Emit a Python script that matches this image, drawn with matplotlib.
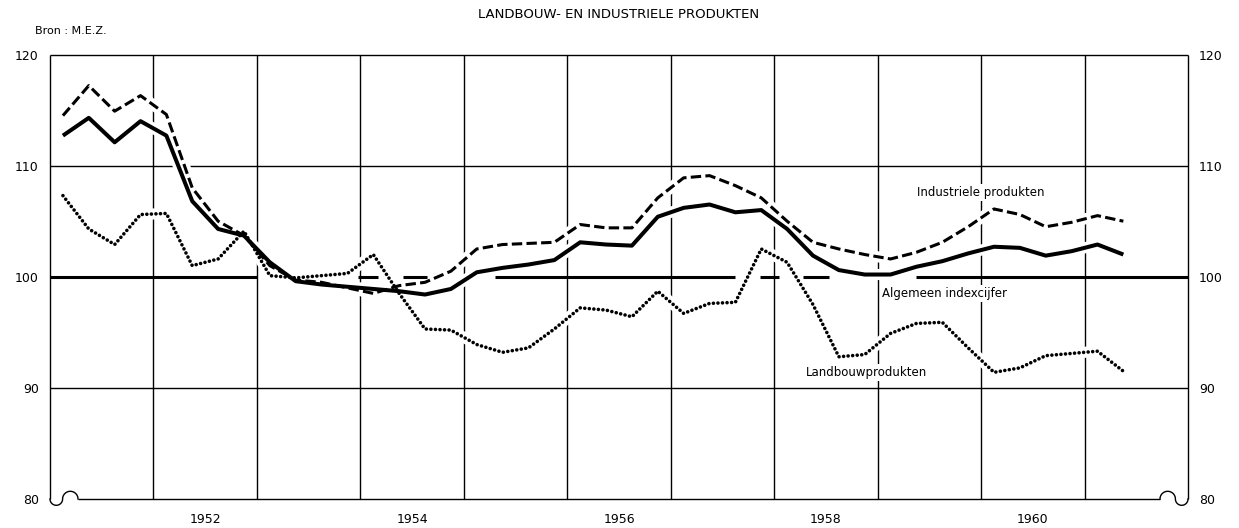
import numpy as np
import matplotlib
matplotlib.use("Agg")
import matplotlib.pyplot as plt
import matplotlib.transforms as mtransforms

# ---------------- data (quarterly index numbers, 1951 Q1 ... 1961 Q2) ----------------
start_year = 1951
industriele = [114.5, 117.2, 114.9, 116.3, 114.6, 108.0, 105.0, 103.7,
               101.0, 99.7, 99.5, 99.0, 98.5, 99.2, 99.5, 100.5,
               102.5, 102.9, 103.0, 103.1, 104.7, 104.4, 104.4, 107.1,
               108.9, 109.1, 108.2, 107.1, 105.0, 103.1, 102.5, 102.0,
               101.6, 102.2, 103.1, 104.5, 106.1, 105.6, 104.5, 104.9,
               105.5, 105.0]
algemeen = [112.7, 114.3, 112.1, 114.0, 112.7, 106.8, 104.3, 103.7,
            101.3, 99.6, 99.3, 99.1, 98.9, 98.7, 98.4, 98.9,
            100.4, 100.8, 101.1, 101.5, 103.1, 102.9, 102.8, 105.4,
            106.2, 106.5, 105.8, 106.0, 104.3, 101.9, 100.6, 100.2,
            100.2, 100.9, 101.4, 102.1, 102.7, 102.6, 101.9, 102.3,
            102.9, 102.0]
landbouw = [107.3, 104.3, 102.9, 105.6, 105.7, 101.0, 101.6, 104.1,
            100.1, 99.9, 100.1, 100.3, 102.0, 98.5, 95.3, 95.2,
            93.9, 93.2, 93.6, 95.3, 97.2, 97.0, 96.4, 98.7,
            96.7, 97.6, 97.7, 102.5, 101.3, 97.5, 92.8, 93.0,
            94.9, 95.8, 95.9, 93.6, 91.4, 91.8, 92.9, 93.1,
            93.3, 91.5]
year_labels = ['1952', '1954', '1956', '1958', '1960']
y_ticks = [80, 90, 100, 110, 120]
series_labels = ['Industriele produkten', 'Algemeen indexcijfer', 'Landbouwprodukten']
title = 'LANDBOUW- EN INDUSTRIELE PRODUKTEN'
source = 'Bron : M.E.Z.'

# quarter mid-points
x = start_year + (np.arange(len(algemeen)) + 0.5) / 4.0

# ---------------- figure ----------------
W, H = 1239, 528
fig = plt.figure(figsize=(W / 100, H / 100), dpi=100)
ax_l, ax_r, ax_t, ax_b = 50, 1188, 54.5, 499
ax = fig.add_axes([ax_l / W, 1 - ax_b / H, (ax_r - ax_l) / W, (ax_b - ax_t) / H])
x0, x1 = 1951, 1962
ax.set_xlim(x0, x1)
ax.set_ylim(80, 120)
for s in ax.spines.values():
    s.set_visible(False)
ax.set_xticks([int(y) + 0.5 for y in year_labels], year_labels)
ax.set_yticks(y_ticks, [str(v) for v in y_ticks])
ax.tick_params(axis='both', length=0, labelsize=9, colors='black')
ax.tick_params(axis='y', labelright=True, pad=8)
ax.tick_params(axis='x', pad=10)

thin = dict(color='black', lw=1.0, solid_capstyle='butt', clip_on=False)
# vertical grid (year boundaries)
for yr in range(x0 + 1, x1):
    ax.plot([yr, yr], [80, 120], zorder=1, **thin)
# horizontal grid
for v in (90, 110):
    ax.plot([x0, x1], [v, v], zorder=1, **thin)
# frame
ax.plot([x0, x1], [120, 120], zorder=5, **thin)
ax.plot([x0, x0], [80, 120], zorder=5, **thin)
ax.plot([x1, x1], [80, 120], zorder=5, **thin)
px_per_year = (ax_r - ax_l) / (x1 - x0)
ax.plot([x0 + 28 / px_per_year, x1 - 28 / px_per_year], [80, 80], zorder=5, **thin)

# axis-break curls at both bottom corners (drawn in pixel offsets)
t1 = np.linspace(np.pi, 2 * np.pi, 40)
t2 = np.linspace(np.pi, 0, 40)
cx = np.concatenate([6.3 + 6.3 * np.cos(t1), 20.3 + 7.7 * np.cos(t2)]) / 100
cy = np.concatenate([6.3 * np.sin(t1), 7.7 * np.sin(t2)]) / 100
trL = fig.dpi_scale_trans + mtransforms.ScaledTranslation(0, 0, ax.transAxes)
trR = fig.dpi_scale_trans + mtransforms.ScaledTranslation(1, 0, ax.transAxes)
ax.plot(cx, cy, transform=trL, clip_on=False, color='black', lw=1.0, zorder=5)
ax.plot(-cx, cy, transform=trR, clip_on=False, color='black', lw=1.0, zorder=5)

# white halos: interrupt the grid where the curves pass
for vals in (industriele, algemeen, landbouw):
    ax.plot(x, vals, color='white', lw=8, zorder=2,
            solid_capstyle='round', solid_joinstyle='round')

# heavy base line at 100 (interrupted as in the original)
seg_start = [1951.0, 1953.98, 1954.41, 1955.30, 1957.86, 1958.28, 1959.37]
seg_end = [1953.0, 1954.17, 1954.64, 1957.62, 1958.05, 1958.53, 1962.0]
for a, b in zip(seg_start, seg_end):
    ax.plot([a, b], [100, 100], color='black', lw=2.2, zorder=3,
            solid_capstyle='butt')

# series
ax.plot(x, industriele, color='black', lw=2.2, linestyle=(0, (3.4, 1.4)), zorder=4)
ax.plot(x, algemeen, color='black', lw=2.9, zorder=4.2,
        solid_joinstyle='round', solid_capstyle='butt')
ax.plot(x, landbouw, color='black', lw=2.6, linestyle=(0, (0.01, 1.25)),
        dash_capstyle='round', zorder=4.1)

lab = dict(ha='center', va='center', fontsize=8.5, color='black', zorder=3.5,
           bbox=dict(fc='white', ec='none', pad=1.5))
ax.text(1960.0, 107.6, series_labels[0], **lab)
ax.text(1959.65, 98.5, series_labels[1], **lab)
ax.text(1958.89, 91.4, series_labels[2], **lab)

fig.text(619 / W, 1 - 15 / H, title, ha='center', va='center', fontsize=9.5)
fig.text(35 / W, 1 - 31 / H, source, ha='left', va='center', fontsize=8)

fig.savefig('out.png', dpi=100, facecolor='white')
